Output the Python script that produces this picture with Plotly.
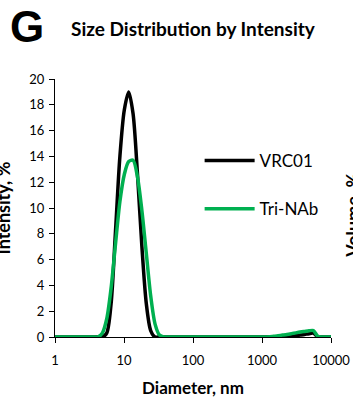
import plotly.graph_objects as go

diameter_nm = [0.9649, 1.117, 1.294, 1.499, 1.736, 2.01, 2.328, 2.696, 3.122, 3.615,
               4.187, 4.849, 5.615, 6.503, 7.531, 8.721, 10.1, 11.7, 13.54, 15.69,
               18.17, 21.04, 24.36, 28.21, 32.67, 37.84, 43.82, 50.75, 58.77, 68.06,
               78.82, 91.28, 105.7, 122.4, 141.8, 164.2, 190.1, 220.2, 255.0, 295.3,
               342.0, 396.1, 458.7, 531.2, 615.1, 712.4, 825.0, 955.4, 1106, 1281,
               1484, 1718, 1990, 2305, 2669, 3091, 3580, 4145, 4801, 5560,
               6439, 7456, 8635, 10000]

vrc01 = [0, 0, 0, 0, 0, 0, 0, 0, 0, 0,
         0, 0, 0.3, 2.6, 8.2, 14.0, 17.6, 19.0, 17.3, 12.6,
         7.0, 2.6, 0.5, 0, 0, 0, 0, 0, 0, 0,
         0, 0, 0, 0, 0, 0, 0, 0, 0, 0,
         0, 0, 0, 0, 0, 0, 0, 0, 0, 0,
         0, 0, 0, 0.03, 0.06, 0.1, 0.15, 0.2, 0.26, 0.3,
         0.02, 0, 0, 0]

tri_nab = [0, 0, 0, 0, 0, 0, 0, 0, 0, 0,
           0, 0.3, 1.4, 3.8, 7.2, 10.5, 12.6, 13.6, 13.7, 12.4,
           9.8, 6.5, 3.2, 1.0, 0.15, 0, 0, 0, 0, 0,
           0, 0, 0, 0, 0, 0, 0, 0, 0, 0,
           0, 0, 0, 0, 0, 0, 0, 0, 0, 0.02,
           0.05, 0.1, 0.15, 0.2, 0.26, 0.32, 0.38, 0.43, 0.48, 0.5,
           0.05, 0, 0, 0]

y_ticks = list(range(0, 21, 2))
x_ticks = [1, 10, 100, 1000, 10000]
x_tick_labels = ["1", "10", "100", "1000", "10000"]

FONT = "Lato"

fig = go.Figure()
fig.add_trace(go.Scatter(x=diameter_nm, y=vrc01, mode="lines", name="VRC01",
                         legendgroup="a",
                         line=dict(color="#000000", width=3.5, shape="spline", smoothing=0.8)))
fig.add_trace(go.Scatter(x=diameter_nm, y=tri_nab, mode="lines", name="Tri-NAb",
                         legendgroup="b",
                         line=dict(color="#00B050", width=3.5, shape="spline", smoothing=0.8)))

fig.update_layout(
    width=353, height=398,
    margin=dict(l=55, r=22, t=79, b=61),
    paper_bgcolor="white", plot_bgcolor="white",
    font=dict(family=FONT, size=13, color="#000000"),
    showlegend=True,
    legend=dict(x=0.524, y=0.752, xanchor="left", yanchor="top",
                font=dict(family=FONT, size=17, color="#000000"),
                bgcolor="rgba(0,0,0,0)", tracegroupgap=23, itemwidth=50,
                traceorder="grouped"),
    xaxis=dict(type="log", range=[0, 4], tickvals=x_ticks, ticktext=x_tick_labels,
               showline=True, linecolor="#000000", linewidth=1,
               ticks="outside", ticklen=5, tickcolor="#000000",
               showgrid=False, zeroline=False, ticklabelstandoff=6, automargin=False,
               tickfont=dict(family=FONT, size=13),
               title=dict(text="<b>Diameter, nm</b>", font=dict(family=FONT, size=17), standoff=16)),
    yaxis=dict(range=[0, 20], tickvals=y_ticks,
               showline=True, linecolor="#000000", linewidth=1,
               ticks="outside", ticklen=5, tickcolor="#000000",
               showgrid=False, zeroline=False, ticklabelstandoff=2, automargin=False,
               tickfont=dict(family=FONT, size=13)),
)

fig.add_annotation(text="<b>G</b>", xref="paper", yref="paper",
                   x=-0.17, y=1.205, xanchor="left", yanchor="middle", showarrow=False,
                   font=dict(family="Liberation Sans", size=44, color="#000000"))
fig.add_annotation(text="<b>Size Distribution by Intensity</b>", xref="paper", yref="paper",
                   x=0.05, y=1.195, xanchor="left", yanchor="middle", showarrow=False,
                   font=dict(family=FONT, size=19, color="#000000"))
fig.add_annotation(text="<b>Intensity, %</b>", xref="paper", yref="paper",
                   x=-0.19, y=0.5, xanchor="center", yanchor="middle", showarrow=False,
                   textangle=-90, font=dict(family=FONT, size=18, color="#000000"))
fig.add_annotation(text="<b>Volume, %</b>", xref="paper", yref="paper",
                   x=1.08, y=0.47, xanchor="center", yanchor="middle", showarrow=False,
                   textangle=-90, font=dict(family=FONT, size=18, color="#000000"))

fig.write_html("out.html")
